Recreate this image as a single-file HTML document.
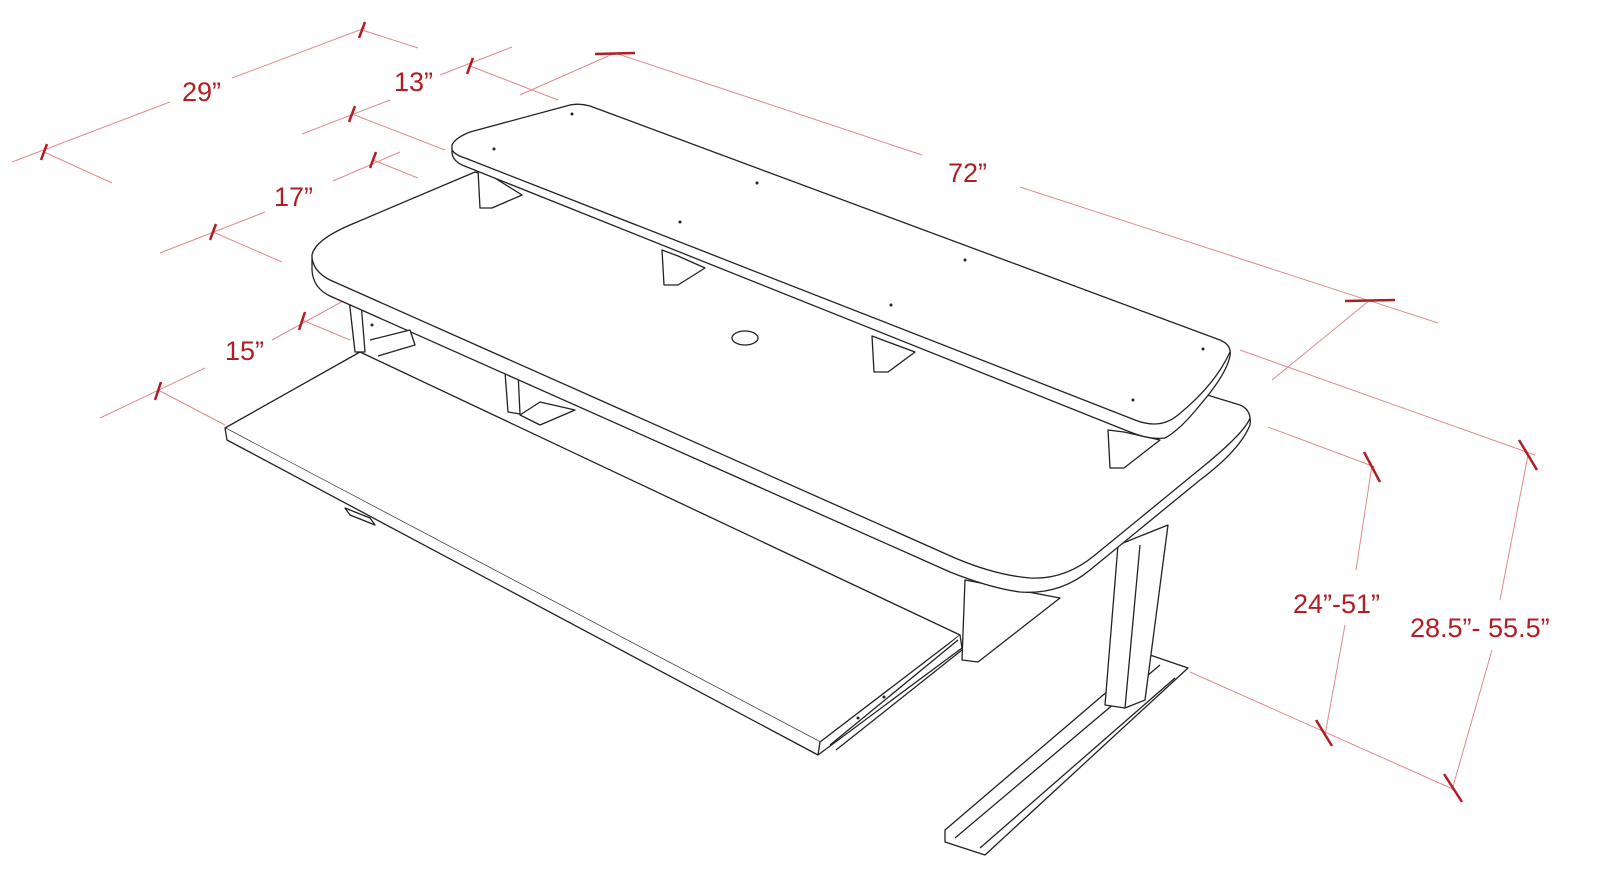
<!DOCTYPE html>
<html><head><meta charset="utf-8"><style>
html,body{margin:0;padding:0;background:#fff}
svg{display:block}
text{font-family:"Liberation Sans Narrow","Liberation Sans",sans-serif;fill:#b01e24;font-size:27px}
</style></head><body>
<svg width="1600" height="891" viewBox="0 0 1600 891" xmlns="http://www.w3.org/2000/svg">
<g stroke="#e08a8c" stroke-width="1" fill="none">
<!-- 29 -->
<path d="M12,162 L170,102 M232,78 L365,28 M44,152 L112,183 M362,30 L418,48"/>
<!-- 13 -->
<path d="M302,134 L390,100 M440,75 L512,47 M352,114 L445,150 M470,66 L558,100"/>
<!-- 72 -->
<path d="M520,95 L615,53 M615,53 L922,155 M1020,187 L1438,323 M1370,300 L1272,380"/>
<!-- 17 -->
<path d="M160,253 L265,212 M333,181 L400,152 M213,232 L282,262 M373,160 L418,178"/>
<!-- 15 -->
<path d="M100,418 L205,368 M272,340 L345,300 M158,390 L225,425 M302,320 L350,340"/>
<!-- heights -->
<path d="M1268,427 L1375,467 M1372,465 L1356,570 M1345,625 L1325,735 M1190,672 L1455,790"/>
<path d="M1240,350 L1535,455 M1528,455 L1500,600 M1492,650 L1452,790"/>
</g>
<g stroke="#b01e24" stroke-width="2.5" fill="none">
<path d="M41,160 L47,144 M359,38 L365,22 M349,122 L355,106 M467,74 L473,58 M210,240 L216,224 M370,168 L376,152 M155,400 L161,382 M299,330 L305,312"/>
<path d="M595,54 L635,53 M1345,301 L1395,300"/>
<path d="M1364,452 L1380,482 M1316,720 L1332,746 M1519,440 L1537,470 M1444,774 L1462,802"/>
</g>
<text x="182" y="101">29”</text>
<text x="394" y="91">13”</text>
<text x="948" y="182">72”</text>
<text x="274" y="206">17”</text>
<text x="225" y="360">15”</text>
<text x="1293" y="613">24”-51”</text>
<text x="1410" y="637">28.5”- 55.5”</text>

<g stroke="#222" stroke-width="1.3" fill="#fff" stroke-linejoin="round">
<!-- foot & leg -->
<path d="M945,830 L1150,655 L1188,668 L985,855 L945,842 Z"/>
<path d="M955,838 L1160,665 M1175,678 L980,848"/>
<path d="M1118,545 L1105,705 L1125,708 L1145,700 L1168,525 Z"/>
<path d="M1125,708 L1140,545"/>
<!-- back legs -->
<path d="M348,290 L355,352 L365,352 L360,290 Z"/>
<path d="M505,372 L508,412 L520,414 L518,372 Z"/>
<path d="M520,415 L540,402 L575,410 L540,425 Z"/>
<path d="M965,580 L962,660 L978,662 L1060,598 Z"/>
<!-- main desk -->
<path d="M312,255 Q315,240 350,225 L475,172 L1240,405 Q1252,410 1250,425 Q1240,450 1200,480 L1090,570 Q1060,595 1020,592 Q990,588 950,572 L330,296 Q313,288 312,270 Z"/>
<path d="M312,258 Q314,272 330,280 L955,558 Q995,575 1030,578 Q1065,580 1095,555 L1205,465 Q1245,432 1250,418"/>
<!-- supports under top shelf -->
<path d="M478,170 L480,208 L492,208 L522,195 L490,175 Z"/>
<path d="M662,250 L664,285 L678,285 L705,268 L678,256 Z"/>
<path d="M872,336 L874,372 L888,372 L915,352 L888,342 Z"/>
<path d="M1108,430 L1110,468 L1124,468 L1160,440 L1124,432 Z"/>
<!-- top shelf -->
<path d="M452,145 Q455,138 470,132 L570,105 Q580,103 590,106 L1220,340 Q1232,345 1230,356 Q1226,375 1200,405 Q1180,430 1165,438 Q1150,440 1130,432 L462,165 Q452,160 452,152 Z"/>
<path d="M452,150 Q455,155 465,158 L1135,420 Q1160,430 1178,415 Q1215,385 1230,352"/>
<!-- grommet -->
<ellipse cx="745" cy="338" rx="13" ry="7"/>
<!-- keyboard tray -->
<path d="M225,428 L360,352 L960,635 L820,742 Z"/>
<path d="M225,428 L227,440 L818,755 L820,742 M818,755 L962,648 L960,635"/>
<path d="M370,340 L410,330 L415,345 L378,356"/>
<path d="M830,745 L958,640 M836,750 L962,650"/>
<path d="M345,508 L370,518 L375,525 L350,515 Z"/>
</g>
<g fill="#222">
<circle cx="572" cy="114" r="1.5"/><circle cx="494" cy="149" r="1.5"/><circle cx="757" cy="183" r="1.5"/>
<circle cx="680" cy="222" r="1.5"/><circle cx="965" cy="260" r="1.5"/><circle cx="891" cy="305" r="1.5"/>
<circle cx="1203" cy="349" r="1.5"/><circle cx="1133" cy="400" r="1.5"/><circle cx="372" cy="325" r="1.5"/>
<circle cx="858" cy="718" r="1.5"/><circle cx="884" cy="697" r="1.5"/>
</g>
</svg>
</body></html>
